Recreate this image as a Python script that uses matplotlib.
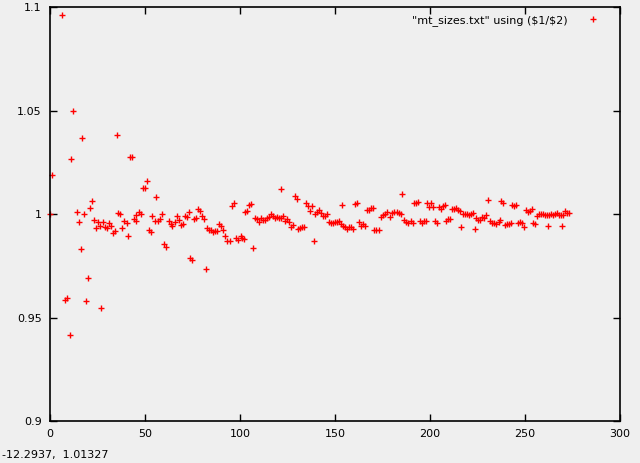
import matplotlib
matplotlib.use("Agg")
import matplotlib.pyplot as plt

plt.rcParams["text.parse_math"] = False

x_vals = [0, 1.2, 6.5, 7.9, 9.1, 10.5, 11.2, 12.3, 14.4, 15.4, 16.5, 17.0, 18.1, 19.1, 20.2, 21.0,
          22.3, 23.3, 24.4, 25.4, 26.5, 26.8, 27.9, 29.1, 30.2, 31.1, 32.3, 33.3, 34.4, 35.4, 35.8,
          37.0, 38.1, 39.1, 40.4, 41.2, 42.1, 43.3, 44.2, 45.1, 45.4, 46.8, 47.9, 49.0, 50.2, 51.2,
          52.1, 53.3, 53.9, 55.4, 56.0, 57.0, 58.1, 59.1, 60.0, 61.2, 62.5, 63.5, 64.4, 65.6, 66.8,
          68.1, 69.1, 70.2, 71.2, 72.3, 73.3, 73.7, 74.9, 75.9, 77.0, 78.1, 79.1, 80.2, 81.2, 82.3,
          82.8, 83.8, 84.9, 85.9, 87.0, 88.0, 89.1, 90.2, 91.2, 92.3, 93.3, 94.6, 95.9, 97.0, 98.0,
          99.1, 100.4, 101.2, 101.9, 102.8, 103.8, 104.9, 106.0, 106.8, 107.8, 108.9, 110.0, 111.2,
          112.3, 113.3, 114.4, 115.4, 116.5, 117.5, 118.6, 119.6, 120.7, 121.7, 121.7, 122.8, 123.8,
          124.9, 126.0, 127.0, 128.0, 129.1, 130.2, 130.5, 131.6, 132.6, 133.7, 134.7, 135.8, 137.0,
          138.1, 139.1, 139.6, 140.7, 141.6, 142.6, 143.7, 144.7, 145.8, 146.8, 147.9, 148.9, 150.0,
          151.0, 152.1, 153.2, 153.9, 154.2, 155.3, 156.3, 157.4, 158.4, 159.5, 160.7, 161.7, 162.8,
          163.8, 164.9, 165.9, 167.0, 168.1, 169.1, 170.2, 170.5, 171.7, 173.0, 174.0, 175.1, 176.2,
          177.2, 178.8, 180.0, 181.2, 182.5, 183.7, 184.9, 185.4, 186.2, 187.4, 188.6, 189.9, 191.1,
          191.6, 192.6, 193.8, 194.7, 195.8, 196.8, 197.9, 198.6, 199.6, 200.7, 201.7, 202.8, 203.8,
          204.9, 206.0, 207.0, 208.1, 208.6, 209.6, 210.7, 211.7, 212.8, 213.8, 214.9, 216.0, 216.5,
          217.5, 218.6, 219.6, 220.7, 221.7, 222.8, 223.8, 224.4, 225.4, 226.5, 227.5, 228.6, 229.6,
          230.7, 231.7, 232.8, 233.8, 234.9, 236.2, 236.8, 237.5, 238.6, 239.6, 240.7, 241.7, 242.5,
          243.3, 244.4, 245.4, 246.5, 247.5, 248.6, 249.6, 250.5, 251.6, 252.6, 253.7, 254.4, 255.4,
          256.5, 257.5, 258.6, 259.6, 260.7, 261.7, 262.3, 262.8, 263.8, 264.9, 265.9, 267.0, 268.1,
          269.1, 269.6, 270.2, 271.2, 272.3, 273.3]

y_vals = [1.000, 1.0187, 1.096, 0.9583, 0.9594, 0.9415, 1.0264, 1.0496, 1.001, 0.9961, 0.9831, 1.0367,
          1.0000, 0.958, 0.9691, 1.0028, 1.0061, 0.9971, 0.9931, 0.9961, 0.9942, 0.9546, 0.9961,
          0.9937, 0.9931, 0.9956, 0.9942, 0.9907, 0.9918, 1.038, 1.0005, 0.9999, 0.9932, 0.9966,
          0.9955, 0.9893, 1.0274, 1.0277, 0.9976, 0.9968, 0.9994, 1.0011, 1.0000, 1.0124, 1.0124,
          1.0158, 0.9921, 0.9912, 0.9989, 0.9966, 1.0081, 0.9966, 0.9974, 1.0000, 0.9854, 0.9842,
          0.9966, 0.9952, 0.9942, 0.9961, 0.9990, 0.9969, 0.9945, 0.9952, 0.9989, 0.9984, 1.0008,
          0.9786, 0.9776, 0.9975, 0.9980, 1.0024, 1.0013, 0.9989, 0.9975, 0.9734, 0.9931, 0.9921,
          0.9921, 0.9914, 0.9918, 0.9918, 0.9952, 0.9942, 0.9921, 0.9893, 0.9871, 0.9868, 1.0037,
          1.0052, 0.9883, 0.9874, 0.9893, 0.9883, 0.9878, 1.0010, 1.0013, 1.0043, 1.0048, 0.9834,
          0.9982, 0.9975, 0.9963, 0.9982, 0.9971, 0.9971, 0.9979, 0.9987, 0.9998, 0.9990, 0.9982,
          0.9987, 0.9979, 0.9979, 1.0119, 0.9990, 0.9968, 0.9974, 0.9963, 0.9939, 0.9945, 1.0087,
          1.0071, 0.9926, 0.9932, 0.9939, 0.9939, 1.0052, 1.0039, 1.0015, 1.0039, 0.9870, 0.9998,
          1.0010, 1.0019, 1.0003, 0.9992, 0.9992, 1.0000, 0.9963, 0.9955, 0.9958, 0.9963, 0.9963,
          0.9966, 0.9952, 1.0042, 0.9941, 0.9936, 0.9928, 0.9936, 0.9937, 0.9926, 1.0048, 1.0052,
          0.9961, 0.9942, 0.9952, 0.9942, 1.0020, 1.0021, 1.0028, 1.0028, 0.9921, 0.9921, 0.9921,
          0.9986, 0.9994, 1.0001, 1.0011, 0.9987, 1.0003, 1.0008, 1.0011, 1.0003, 0.9998, 1.0095,
          0.9971, 0.9961, 0.9955, 0.9965, 0.9955, 1.0052, 1.0052, 1.0057, 0.9965, 0.9955, 0.9966,
          0.9966, 1.0052, 1.0035, 1.0052, 1.0035, 0.9966, 0.9958, 1.0035, 1.0024, 1.0040, 1.0043,
          0.9966, 0.9974, 0.9974, 1.0023, 1.0023, 1.0028, 1.0019, 1.0015, 0.9936, 0.9998, 0.9998,
          0.9998, 0.9995, 0.9998, 1.0003, 0.9926, 0.9979, 0.9971, 0.9971, 0.9987, 0.9979, 0.9994,
          1.0066, 0.9965, 0.9958, 0.9955, 0.9952, 0.9960, 0.9970, 1.0061, 1.0055, 0.9947, 0.9952,
          0.9953, 0.9958, 1.0042, 1.0039, 1.0043, 0.9958, 0.9961, 0.9957, 0.9936, 1.0019, 1.0011,
          1.0016, 1.0026, 0.9958, 0.9952, 0.9990, 1.0000, 1.0000, 1.0000, 0.9995, 0.9994, 0.9941,
          0.9995, 1.0000, 0.9995, 1.0000, 1.0005, 0.9994, 0.9994, 0.9941, 0.9994, 1.0013, 1.0003,
          1.0005]

x_ticks = [0, 50, 100, 150, 200, 250, 300]
x_tick_labels = ["0", "50", "100", "150", "200", "250", "300"]
y_ticks = [0.9, 0.95, 1.0, 1.05, 1.1]
y_tick_labels = ["0.9", "0.95", "1", "1.05", "1.1"]
series_label = '"mt_sizes.txt" using ($1/$2)'
coord_text = "-12.2937,  1.01327"

bg = "#efefef"
W, H = 640, 463
fig = plt.figure(figsize=(W / 100, H / 100), dpi=100, facecolor=bg)
ax = fig.add_axes([50 / W, 1 - 421 / H, 570 / W, 414 / H], facecolor=bg)

ax.plot(x_vals, y_vals, linestyle="none", marker="+", color="#ff0000",
        markersize=5, markeredgewidth=1.0, label=series_label, clip_on=False)

ax.set_xlim(0, 300)
ax.set_ylim(0.9, 1.1)
ax.set_xticks(x_ticks)
ax.set_xticklabels(x_tick_labels)
ax.set_yticks(y_ticks)
ax.set_yticklabels(y_tick_labels)
ax.tick_params(direction="in", length=5, width=1, top=True, right=True,
               labelsize=8, pad=6, colors="black")
for s in ax.spines.values():
    s.set_linewidth(1.2)
    s.set_color("black")

leg = ax.legend(loc="upper right", frameon=False, markerfirst=False,
                fontsize=8, handlelength=2.0, handletextpad=1.2,
                borderaxespad=0.3, bbox_to_anchor=(0.985, 1.0))

fig.text(2 / W, 1 - 455 / H, coord_text, fontsize=8, va="center", ha="left")

fig.savefig("out.png", dpi=100, facecolor=bg)
